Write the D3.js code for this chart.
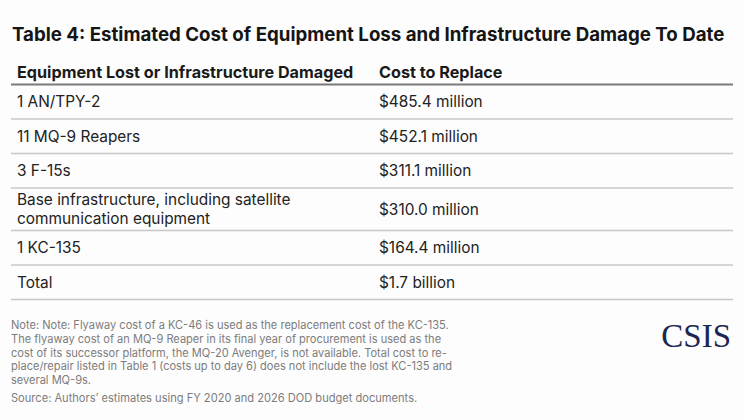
<!DOCTYPE html>
<html>
<head>
<meta charset="utf-8">
<script src="https://cdn.jsdelivr.net/npm/d3@7"></script>
<style>
  body { margin: 0; background: #fdfdfd; }
  svg { display: block; }
  text { font-family: Inter, "Noto Sans", sans-serif; }
</style>
</head>
<body>
<svg id="chart" width="744" height="420"></svg>
<script>
var title = "Table 4: Estimated Cost of Equipment Loss and Infrastructure Damage To Date";
var headers = ["Equipment Lost or Infrastructure Damaged", "Cost to Replace"];

// each item may span more than one text line
var items = [
	["1 AN/TPY-2"],
	["11 MQ-9 Reapers"],
	["3 F-15s"],
	["Base infrastructure, including satellite", "communication equipment"],
	["1 KC-135"],
	["Total"]
];
var costs = ["$485.4 million", "$452.1 million", "$311.1 million", "$310.0 million", "$164.4 million", "$1.7 billion"];

var noteLines = [
	"Note: Note: Flyaway cost of a KC-46 is used as the replacement cost of the KC-135.",
	"The flyaway cost of an MQ-9 Reaper in its final year of procurement  is used as the",
	"cost of its successor platform, the MQ-20 Avenger, is not available. Total cost to re-",
	"place/repair listed in Table 1 (costs up to day 6) does not include the lost KC-135 and",
	"several MQ-9s."
];
var source = "Source: Authors\u2019 estimates using FY 2020 and 2026 DOD budget documents.";

var svg = d3.select("#chart");

var left = 11, right = 733;
var col1 = 17, col2 = 379;
var headTop = 84.5;
var rowBase = 34.5, rowExtra = 8, lineGap = 18.8;

svg.append("rect").attr("width", 744).attr("height", 420).attr("fill", "#fdfdfd");

svg.append("text")
	.attr("x", 12).attr("y", 41)
	.attr("font-size", "18.7px").attr("font-weight", "bold")
	.attr("fill", "#151515")
	.text(title);

var header = svg.append("g");
header.selectAll("text")
	.data(headers)
	.enter().append("text")
	.attr("x", function(d, i){ return i == 0 ? col1 : col2; })
	.attr("y", 78)
	.attr("font-size", "16.2px").attr("font-weight", "bold")
	.attr("fill", "#1a1a1a")
	.text(function(d){ return d; });

// row heights grow with the number of text lines
var heights = items.map(function(d){ return rowBase + (d.length - 1) * rowExtra; });
var tops = [];
var acc = headTop;
heights.forEach(function(h){ tops.push(acc); acc += h; });

svg.append("line")
	.attr("x1", left).attr("x2", right)
	.attr("y1", headTop).attr("y2", headTop)
	.attr("stroke", "#7a7a7a").attr("stroke-width", 2);

var rows = svg.selectAll(".row")
	.data(items)
	.enter().append("g")
	.attr("class", "row")
	.attr("transform", function(d, i){ return "translate(0," + tops[i] + ")"; });

rows.append("line")
	.attr("x1", left).attr("x2", right)
	.attr("y1", function(d, i){ return heights[i]; })
	.attr("y2", function(d, i){ return heights[i]; })
	.attr("stroke", "#c8c8c8").attr("stroke-width", 1.3);

rows.each(function(d, i){
	var g = d3.select(this);
	var mid = heights[i] / 2;
	var n = d.length;
	// wrapped label kept as one text with a tspan per line
	g.append("text")
		.attr("class", "item")
		.attr("font-size", "15.4px")
		.attr("fill", "#222")
		.selectAll("tspan")
		.data(d)
		.enter().append("tspan")
		.attr("x", col1)
		.attr("y", function(t, j){ return mid + 5.5 + (j - (n - 1) / 2) * lineGap; })
		.text(function(t){ return t; });
	g.append("text")
		.attr("x", col2)
		.attr("y", mid + 5.5)
		.attr("font-size", "15.4px")
		.attr("fill", "#222")
		.text(costs[i]);
});

var notes = svg.append("g").attr("fill", "#7c7c7c").attr("font-size", "11.05px");
notes.selectAll("text")
	.data(noteLines)
	.enter().append("text")
	.attr("x", left)
	.attr("y", function(d, i){ return 329 + i * 13.8; })
	.text(function(d){ return d; });

svg.append("text")
	.attr("x", left).attr("y", 401.5)
	.attr("font-size", "11.1px").attr("fill", "#7c7c7c")
	.text(source);

svg.append("text")
	.attr("x", 731).attr("y", 347)
	.attr("text-anchor", "end")
	.style("font-family", "'Liberation Serif', 'DejaVu Serif', serif")
	.attr("font-size", "33px")
	.attr("fill", "#1c2654")
	.text("CSIS");
</script>
</body>
</html>
